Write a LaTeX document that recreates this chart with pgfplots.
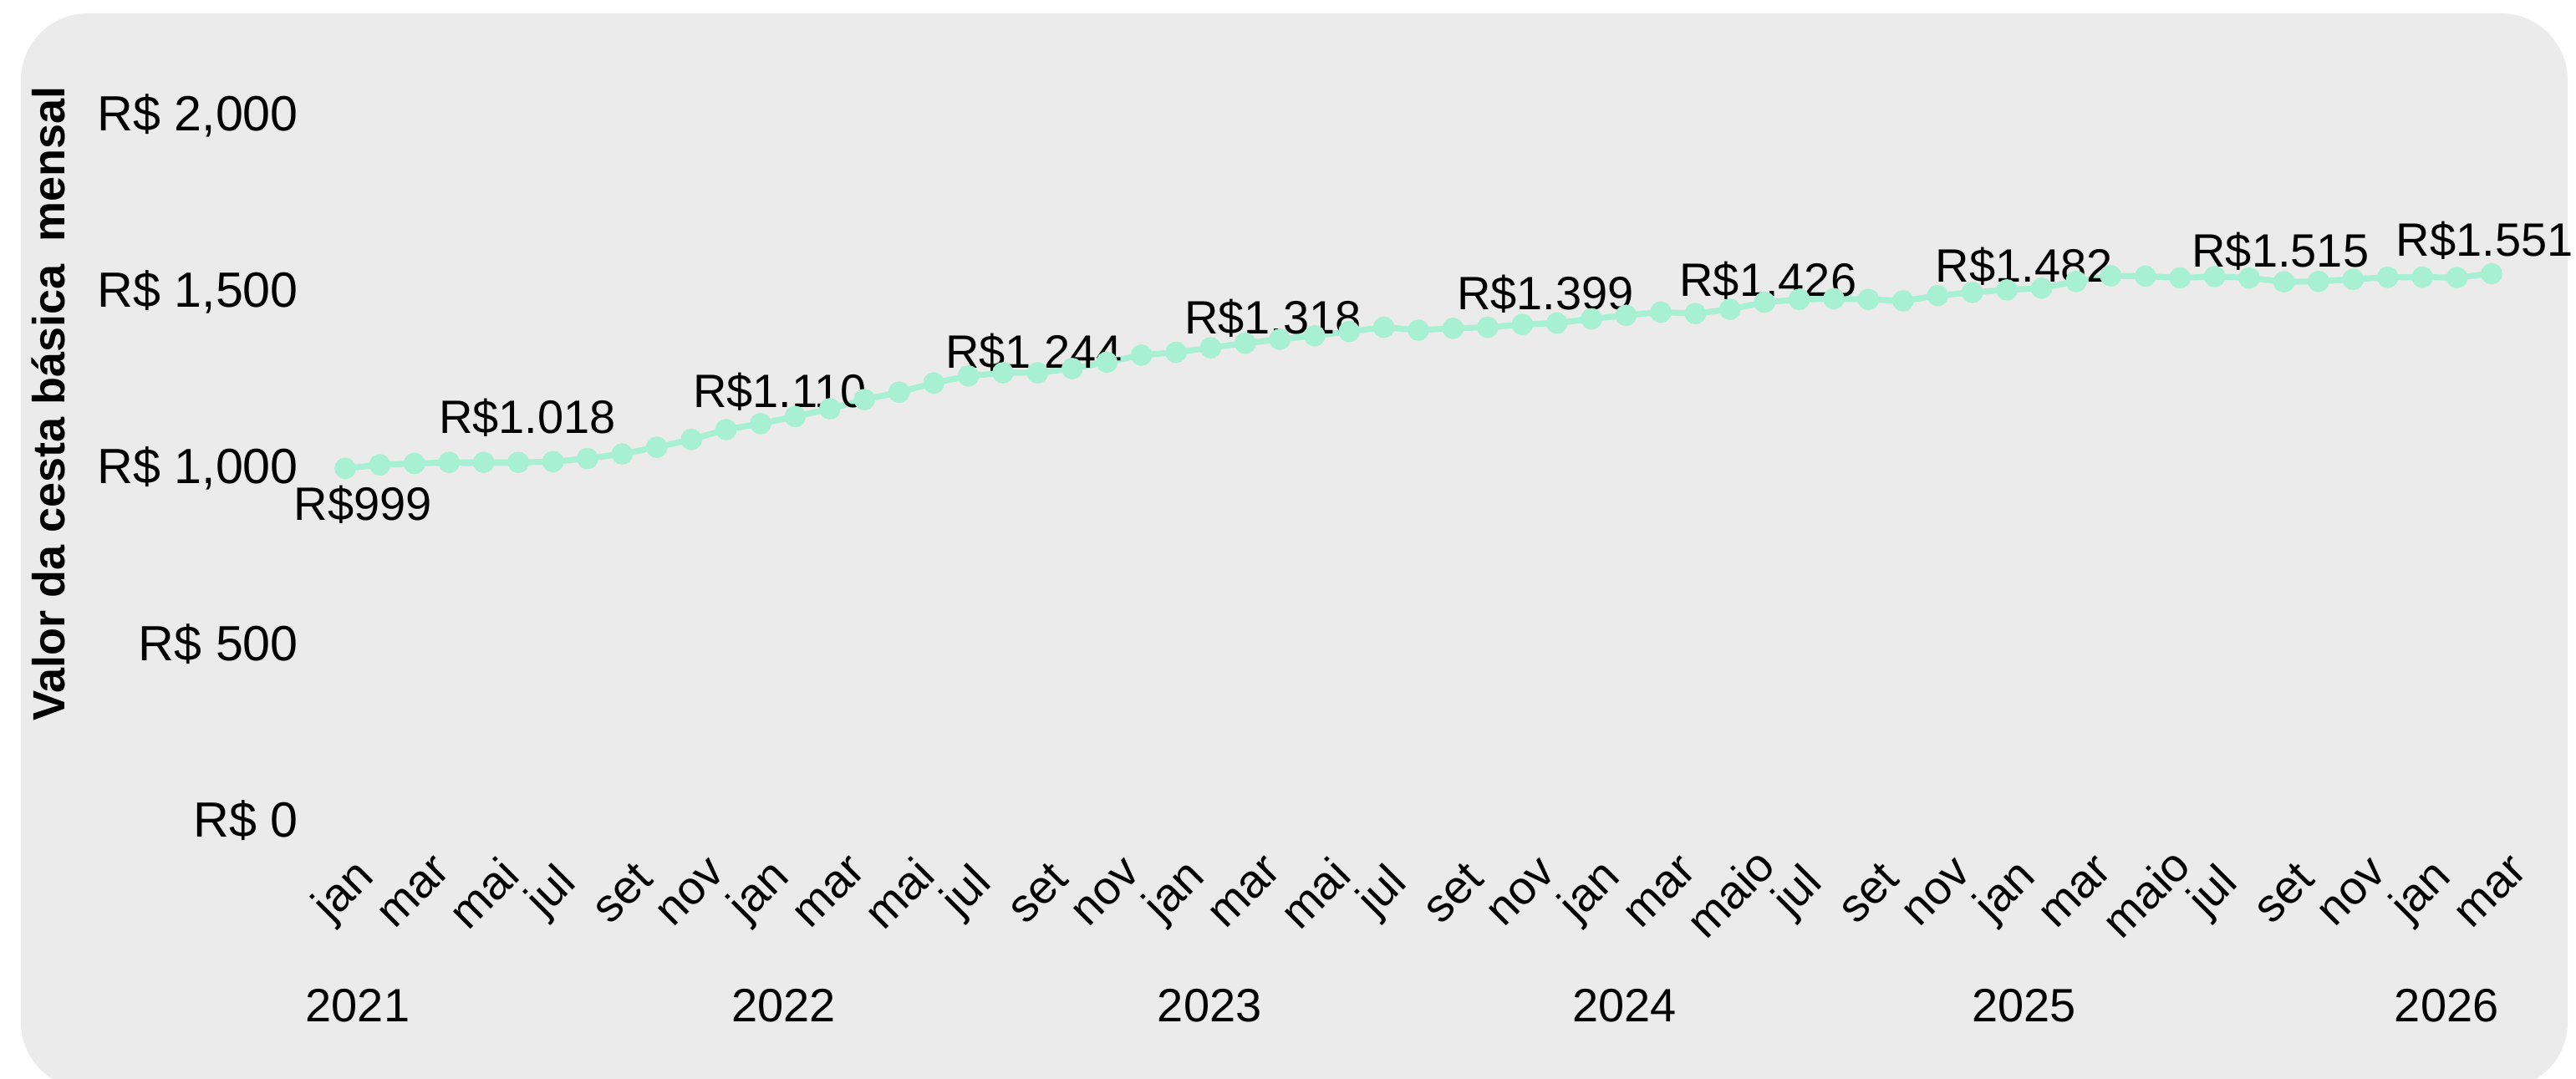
\documentclass[border=0pt]{standalone}
\usepackage{fontspec}
\setmainfont{Liberation Sans}
\usepackage{pgfplots}
\pgfplotsset{compat=1.18}
\definecolor{bg}{HTML}{EBEBEB}
\definecolor{mint}{HTML}{A8F0D4}
\begin{document}
\begin{tikzpicture}
\useasboundingbox (0,0) rectangle (770.5pt,322.75pt);
\fill[bg, rounded corners=20pt] (6.25pt,-3pt) rectangle (768pt,318.75pt);
\node[rotate=90, font=\fontsize{13.5}{16}\selectfont\bfseries] at (14.5pt,202pt) {Valor da cesta básica\hspace{0.5em}mensal};
\begin{axis}[
  at={(103.25pt,77.25pt)}, anchor=south west,
  scale only axis, width=642pt, height=211pt,
  xmin=0, xmax=62, ymin=0, ymax=2000,
  clip=false,
  axis line style={draw=none}, tick style={draw=none},
  ytick={0,500,1000,1500,2000},
  yticklabels={{R\$ 0},{R\$ 500},{R\$ 1,000},{R\$ 1,500},{R\$ 2,000}},
  yticklabel style={font=\fontsize{14.8}{17}\selectfont, anchor=east},
  yticklabel shift=10.5pt,
  xtick={0,2,...,62},
  xticklabels={jan,mar,mai,jul,set,nov,jan,mar,mai,jul,set,nov,jan,mar,mai,jul,set,nov,jan,mar,maio,jul,set,nov,jan,mar,maio,jul,set,nov,jan,mar},
  xticklabel style={font=\fontsize{14}{16}\selectfont, rotate=45, anchor=center},
  xticklabel shift=21.5pt,
]
\addplot[mint, line width=1.8pt, mark=*, mark size=2.3pt, mark options={fill=mint, draw=mint}] coordinates {
(0,999) (1,1009) (2,1013) (3,1016) (4,1016) (5,1016) (6,1018) (7,1027) (8,1040) (9,1059)
(10,1081) (11,1109) (12,1126) (13,1146) (14,1168) (15,1194) (16,1215) (17,1241) (18,1261) (19,1270)
(20,1270) (21,1282) (22,1300) (23,1320) (24,1328) (25,1341) (26,1354) (27,1365) (28,1375) (29,1387)
(30,1399) (31,1391) (32,1396) (33,1399) (34,1407) (35,1411) (36,1423) (37,1433) (38,1442) (39,1438)
(40,1450) (41,1470) (42,1478) (43,1480) (44,1478) (45,1474) (46,1489) (47,1498) (48,1505) (49,1510)
(50,1529) (51,1545) (52,1544) (53,1539) (54,1543) (55,1539) (56,1528) (57,1529) (58,1535) (59,1541)
(60,1541) (61,1540) (62,1551)
};
\begin{scope}[every node/.style={anchor=base, font=\fontsize{14}{16}\selectfont}]
\node at (axis cs:0.51,851) {R\$999};
\node at (axis cs:5.26,1099) {R\$1.018};
\node at (axis cs:12.55,1172) {R\$1.110};
\node at (axis cs:19.9,1284) {R\$1.244};
\node at (axis cs:26.8,1381) {R\$1.318};
\node at (axis cs:34.67,1449) {R\$1.399};
\node at (axis cs:41.1,1487) {R\$1.426};
\node at (axis cs:48.5,1527) {R\$1.482};
\node at (axis cs:55.9,1569) {R\$1.515};
\node at (axis cs:61.8,1600) {R\$1.551};
\end{scope}
\begin{scope}[every node/.style={anchor=center, font=\fontsize{14}{16}\selectfont, yshift=-55.25pt}]
\node at (axis cs:0.36,0) {2021};
\node at (axis cs:12.67,0) {2022};
\node at (axis cs:24.97,0) {2023};
\node at (axis cs:36.96,0) {2024};
\node at (axis cs:48.5,0) {2025};
\node at (axis cs:60.7,0) {2026};
\end{scope}
\end{axis}
\end{tikzpicture}
\end{document}
